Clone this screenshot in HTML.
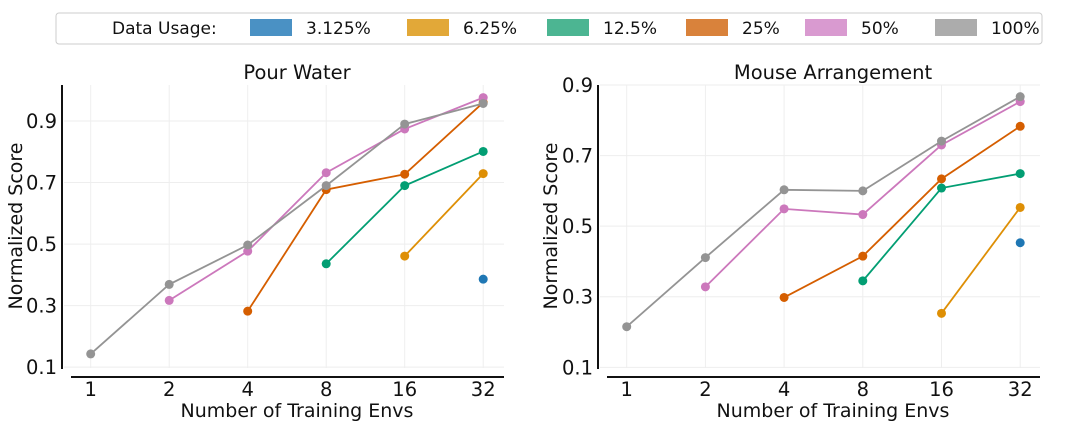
<!DOCTYPE html>
<html><head><meta charset="utf-8"><style>
body{margin:0;background:#fff;font-family:"Liberation Sans","DejaVu Sans",sans-serif;}
svg text{font-family:"DejaVu Sans","Liberation Sans",sans-serif;fill:#111;}
</style></head><body>
<svg id="chart" width="1075" height="431" xmlns="http://www.w3.org/2000/svg">
<g id="legend">
<rect x="56" y="13" width="986" height="31" rx="3" fill="#fff" stroke="#ccc"/>
<text x="112" y="34" font-size="17">Data Usage:</text>
</g>
</svg>
<script>
const categories = ["1","2","4","8","16","32"];
const seriesNames = ["3.125%","6.25%","12.5%","25%","50%","100%"];
const colors = ["#1f77b4","#de8f05","#029e73","#d55e00","#cc78bc","#949494"];
const legendColors = ["#4a91c4","#e2a838","#4cb592","#d9823b","#d99ad0","#acacac"];
const yTicks = [0.1,0.3,0.5,0.7,0.9];
const pour_3125 = [null,null,null,null,null,0.386];
const pour_625 = [null,null,null,null,0.461,0.729];
const pour_125 = [null,null,null,0.436,0.690,0.801];
const pour_25 = [null,null,0.282,0.677,0.727,0.960];
const pour_50 = [null,0.317,0.477,0.732,0.874,0.976];
const pour_100 = [0.143,0.369,0.497,0.690,0.890,0.957];
const mouse_3125 = [null,null,null,null,null,0.453];
const mouse_625 = [null,null,null,null,0.253,0.553];
const mouse_125 = [null,null,null,0.345,0.608,0.649];
const mouse_25 = [null,null,0.298,0.415,0.634,0.783];
const mouse_50 = [null,0.328,0.549,0.533,0.730,0.853];
const mouse_100 = [0.215,0.411,0.603,0.600,0.741,0.867];

const NS="http://www.w3.org/2000/svg";
const svg=document.getElementById('chart');
function mk(tag,attrs,parent){const e=document.createElementNS(NS,tag);for(const k in attrs)e.setAttribute(k,attrs[k]);(parent||svg).appendChild(e);return e;}

const lx=[250,407,547,686,805,935];
seriesNames.forEach((n,i)=>{
  const g=mk('g',{});
  
  
  const r=mk('rect',{x:lx[i],y:19,width:42,height:17,fill:legendColors[i]},g);
  
  
  const t=mk('text',{x:lx[i]+56,y:34,'font-size':17},g);
  t.textContent=n;
  
  
});

function panel(cfg,series){
  const g=mk('g',{});
  
  
  const X=i=>cfg.x0+i*cfg.dx;
  const Y=v=>cfg.y9+(0.9-v)*cfg.k;
  categories.forEach((c,i)=>{const l=mk('line',{x1:X(i),x2:X(i),y1:cfg.top,y2:368,stroke:'#eee','stroke-width':1},g);
    });
  yTicks.forEach(v=>{const l=mk('line',{x1:cfg.ax+2,x2:cfg.xr,y1:Y(v),y2:Y(v),stroke:'#eee','stroke-width':1},g);
    
    const t=mk('text',{x:cfg.ax-5,y:Y(v)+7,'font-size':19.5,'text-anchor':'end'},g);t.textContent=v.toFixed(1);
    });
  categories.forEach((c,i)=>{const t=mk('text',{x:X(i),y:396,'font-size':19.5,'text-anchor':'middle'},g);t.textContent=c;
    });
  const ya=mk('line',{x1:cfg.ax,x2:cfg.ax,y1:85,y2:369,stroke:'#111','stroke-width':2},g);
  
  const xa=mk('line',{x1:cfg.xl,x2:cfg.xr,y1:377,y2:377,stroke:'#111','stroke-width':2},g);
  
  const tt=mk('text',{x:cfg.tx,y:79,'font-size':19.5,'text-anchor':'middle'},g);tt.textContent=cfg.title;
  
  const xl=mk('text',{x:cfg.tx,y:417,'font-size':19,'text-anchor':'middle'},g);xl.textContent='Number of Training Envs';
  
  const yl=mk('text',{x:0,y:0,'font-size':19,'text-anchor':'middle',transform:`translate(${cfg.ylx},226) rotate(-90)`},g);yl.textContent='Normalized Score';
  
  series.forEach((arr,si)=>{
    const pts=[];arr.forEach((v,i)=>{if(v!==null)pts.push([X(i),Y(v)]);});
    if(pts.length>1){const p=mk('polyline',{points:pts.map(p=>p.join(',')).join(' '),fill:'none',stroke:colors[si],'stroke-width':1.8},g);
      }
    pts.forEach(p=>{const c=mk('circle',{cx:p[0],cy:p[1],r:4.5,fill:colors[si]},g);
      });
  });
}
panel({name:'pour-water-panel',title:'Pour Water',x0:90.7,dx:78.5,y9:121,k:307.7,top:85,ax:62,xl:71,xr:504,tx:297,ylx:22},
  [pour_3125,pour_625,pour_125,pour_25,pour_50,pour_100]);
panel({name:'mouse-arrangement-panel',title:'Mouse Arrangement',x0:626.7,dx:78.7,y9:85,k:352.9,top:85,ax:598,xl:607,xr:1040,tx:833,ylx:557},
  [mouse_3125,mouse_625,mouse_125,mouse_25,mouse_50,mouse_100]);
</script>
</body></html>
